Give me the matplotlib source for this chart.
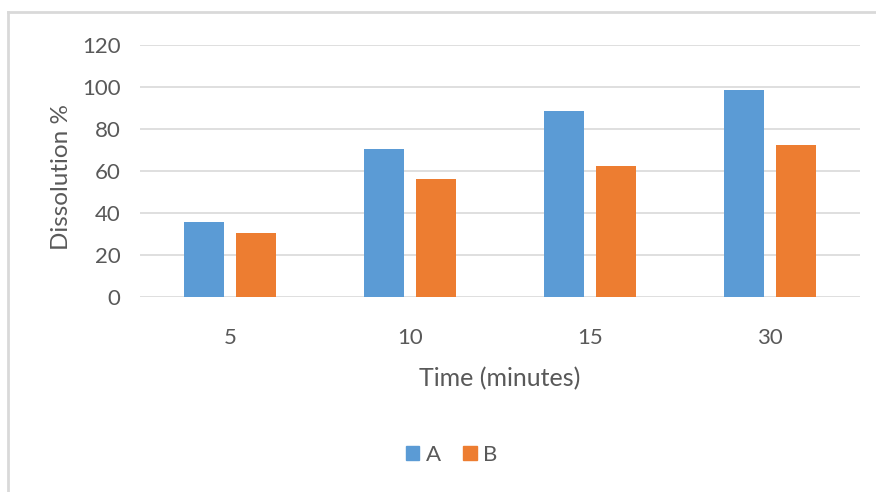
import numpy as np
import matplotlib
matplotlib.use('Agg')
import matplotlib.pyplot as plt
from matplotlib.lines import Line2D
from matplotlib.patches import Patch

# Data
times = ['5', '10', '15', '30']
a_vals = [35.8, 70.6, 88.4, 98.6]
b_vals = [30.4, 56.3, 62.4, 72.5]

plt.rcParams['font.family'] = ['Lato', 'DejaVu Sans']
text_col = '#595959'

fig = plt.figure(figsize=(8.76, 4.92), dpi=100)
W, H = 876, 492
ax = fig.add_axes([140 / W, 1 - 297 / H, 720 / W, 252 / H])

x = np.arange(len(times))
width = 0.222
off = 0.144
ax.bar(x - off, a_vals, width, color='#5b9bd5', label='A', zorder=3)
ax.bar(x + off, b_vals, width, color='#ed7d31', label='B', zorder=3)

ax.set_xlim(-0.5, len(times) - 0.5)
ax.set_ylim(0, 120)
ax.set_yticks(range(0, 121, 20))
ax.set_xticks(x)
ax.set_xticklabels(times)
ax.grid(axis='y', color='#d9d9d9', linewidth=1.2, zorder=0)
for s in ax.spines.values():
    s.set_visible(False)
ax.tick_params(length=0, labelsize=16, labelcolor=text_col)
ax.tick_params(axis='y', pad=14)
ax.tick_params(axis='x', pad=22)

ax.set_xlabel('Time (minutes)', fontsize=18, color=text_col, labelpad=14)
ax.set_ylabel('Dissolution %', fontsize=17.5, color=text_col)
ax.yaxis.set_label_coords(-0.094, 0.475)

# legend below the plot
handles = [Patch(color='#5b9bd5'), Patch(color='#ed7d31')]
fig.legend(handles, ['A', 'B'], loc='center', bbox_to_anchor=(452 / W, 1 - 455 / H),
           ncol=2, frameon=False, fontsize=16, handlelength=0.6, handleheight=0.6,
           handletextpad=0.3, columnspacing=1.0, labelcolor=text_col)

# outer chart border (top and left only visible)
fig.add_artist(Line2D([8 / W, 1], [1 - 12 / H, 1 - 12 / H], color='#d9d9d9', linewidth=2))
fig.add_artist(Line2D([8 / W, 8 / W], [0, 1 - 12 / H], color='#d9d9d9', linewidth=2))

fig.savefig('out.png', dpi=100)
